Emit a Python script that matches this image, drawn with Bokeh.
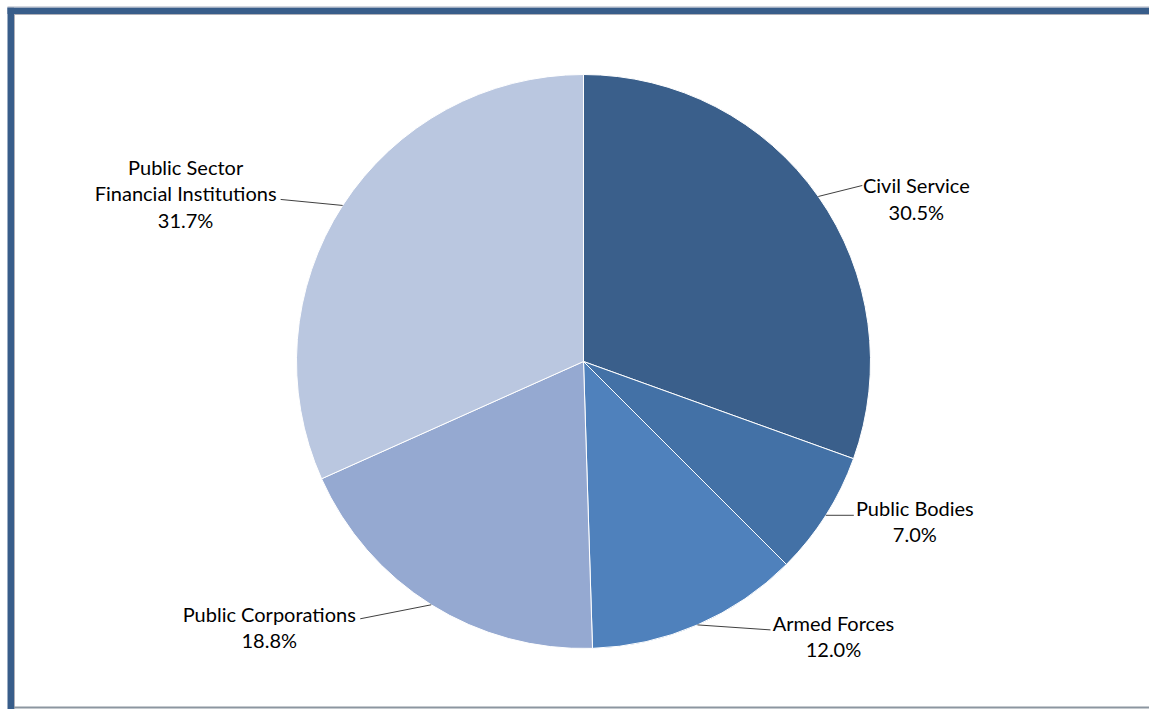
import math
from bokeh.plotting import figure
from bokeh.models import Range1d, ColumnDataSource
from bokeh.core.properties import value
from bokeh.embed import file_html
from bokeh.resources import INLINE

# ---- data ----
categories = ["Civil Service", "Public Bodies", "Armed Forces",
              "Public Corporations", "Public Sector\nFinancial Institutions"]
shares = [30.5, 7.0, 12.0, 18.8, 31.7]
colors = ["#3A5F8B", "#4371A6", "#4F81BC", "#95A9D1", "#BAC7E0"]

# ---- layout ----
W, H = 1149, 709
CX, CY_PX, R = 583, 361, 287
CY = H - CY_PX
# leader end offsets from slice-edge point (px, y down) and text-center offsets from leader end
leader_off = [(44, -11), (28, 0), (73, 5), (-71, 14), (-62, -6)]
text_off = [(54, 13), (61, 6), (63, 6), (-91, 8), (-95, -6)]

p = figure(width=W, height=H, x_range=Range1d(0, W), y_range=Range1d(0, H),
           output_backend="svg", toolbar_location=None, min_border=0)
p.axis.visible = False
p.grid.visible = False
p.outline_line_color = None
p.background_fill_color = "white"
p.border_fill_color = "white"

total = sum(shares)
starts, ends, mids = [], [], []
cum = 0.0
for s in shares:
    f0 = cum / total
    cum += s
    f1 = cum / total
    starts.append(math.pi / 2 - f0 * 2 * math.pi)
    ends.append(math.pi / 2 - f1 * 2 * math.pi)
    mids.append((f0 + f1) / 2 * 2 * math.pi)

src = ColumnDataSource(dict(start=starts, end=ends, color=colors))
p.wedge(x=CX, y=CY, radius=R, start_angle="start", end_angle="end",
        direction="clock", fill_color="color", line_color="white",
        line_width=1, source=src)

lx0, ly0, lx1, ly1, tx, ty, labels = [], [], [], [], [], [], []
for i, cat in enumerate(categories):
    a = mids[i]
    ex = CX + R * math.sin(a)
    ey = CY + R * math.cos(a)
    x1 = ex + leader_off[i][0]
    y1 = ey - leader_off[i][1]
    lx0.append(ex); ly0.append(ey); lx1.append(x1); ly1.append(y1)
    tx.append(x1 + text_off[i][0])
    ty.append(y1 - text_off[i][1])
    labels.append(f"{cat}\n{shares[i]:.1f}%")

p.segment(x0=lx0, y0=ly0, x1=lx1, y1=ly1, line_color="#404040", line_width=1)
p.text(x=tx, y=ty, text=labels, text_align="center", text_baseline="middle",
       text_font=value("Lato"), text_font_size="20px", text_color="#000000",
       text_line_height=1.1)

# frame
p.quad(left=[7], right=[W + 5], top=[H - 7], bottom=[H - 13.5],
       fill_color="#385D8A", line_color=None)
p.quad(left=[7], right=[13.5], top=[H - 7], bottom=[-5],
       fill_color="#385D8A", line_color=None)
p.segment(x0=[13.5, 14], y0=[H - 14, H - 14], x1=[W + 5, 14], y1=[H - 14, -5],
          line_color="#B0B0B8", line_width=1)
p.segment(x0=[7], y0=[H - 6.5], x1=[W + 5], y1=[H - 6.5],
          line_color="#A8B0C0", line_width=1)
p.segment(x0=[13.5], y0=[H - 707], x1=[W + 5], y1=[H - 707],
          line_color="#8C96A0", line_width=2)

open("out.html", "w").write(file_html(p, INLINE))
